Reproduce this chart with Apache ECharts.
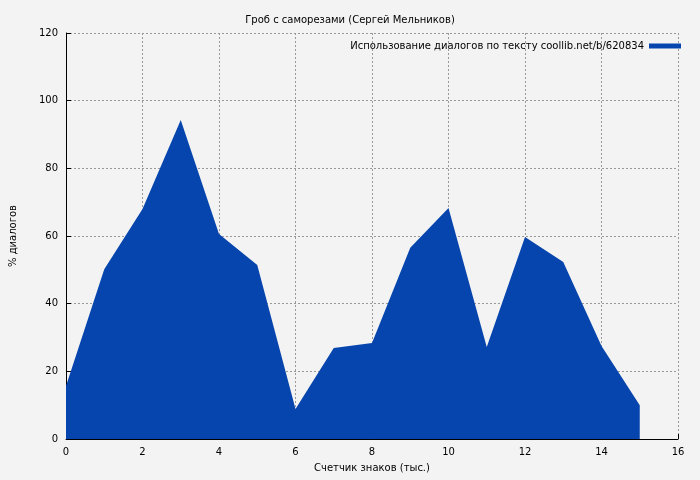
<!DOCTYPE html>
<html>
<head>
<meta charset="utf-8">
<script src="https://cdn.jsdelivr.net/npm/echarts@6/dist/echarts.min.js"></script>
<style>html,body{margin:0;background:#f3f3f3}#chart{width:700px;height:480px}</style>
</head>
<body>
<div id="chart"></div>
<script>
var xValues = [0, 1, 2, 3, 4, 5, 6, 7, 8, 9, 10, 11, 12, 13, 14, 15];
var usage = [15.7, 50.2, 68, 94.3, 60.6, 51.4, 8.9, 26.9, 28.4, 56.5, 68.3, 27.2, 59.7, 52.3, 27.5, 10];
var seriesName = 'Использование диалогов по тексту coollib.net/b/620834';

var points = [];
for (var i = 0; i < xValues.length; i++) {
    points.push([xValues[i], usage[i]]);
}

var chart = echarts.init(document.getElementById('chart'));
var gridLine = { show: true, lineStyle: { color: '#999', type: [2, 2], width: 1 } };
var font = 'DejaVu Sans';
chart.setOption({
    backgroundColor: '#f3f3f3',
    animation: false,
    textStyle: { fontFamily: font },
    title: {
        text: 'Гроб с саморезами (Сергей Мельников)',
        left: 'center', top: 10,
        textStyle: { fontSize: 10, fontWeight: 'normal', color: '#000', fontFamily: font }
    },
    legend: {
        right: 14, top: 36, align: 'right',
        itemWidth: 32, itemHeight: 5,
        textStyle: { fontSize: 10, color: '#000', fontFamily: font },
        data: [{ name: seriesName, icon: 'rect' }]
    },
    grid: { left: 60, right: 22, top: 33, bottom: 41 },
    xAxis: {
        type: 'value', min: 0, max: 16, interval: 2,
        name: 'Счетчик знаков (тыс.)', nameLocation: 'middle', nameGap: 24,
        nameTextStyle: { fontSize: 10, color: '#000' },
        axisLine: { lineStyle: { color: '#000' } },
        axisTick: { inside: true, lineStyle: { color: '#000' } },
        axisLabel: { fontSize: 10, color: '#000' },
        splitLine: gridLine
    },
    yAxis: {
        type: 'value', min: 0, max: 120, interval: 20,
        name: '% диалогов', nameLocation: 'middle', nameGap: 48,
        nameTextStyle: { fontSize: 10, color: '#000' },
        axisLine: { show: true, lineStyle: { color: '#000' } },
        axisTick: { show: true, inside: true, lineStyle: { color: '#000' } },
        axisLabel: { fontSize: 10, color: '#000' },
        splitLine: gridLine
    },
    series: [{
        name: seriesName,
        type: 'line',
        data: points,
        showSymbol: false,
        lineStyle: { width: 0, color: '#0645ad' },
        itemStyle: { color: '#0645ad' },
        areaStyle: { color: '#0645ad', opacity: 1 }
    }]
});
</script>
</body>
</html>
